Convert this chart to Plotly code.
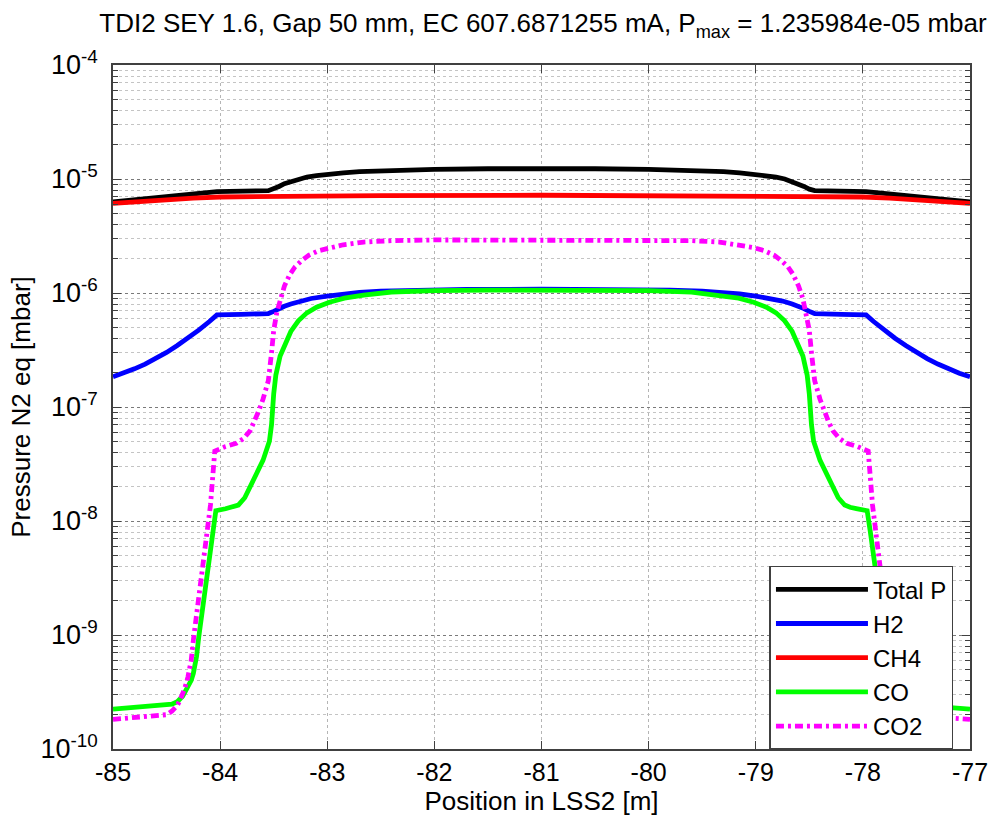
import plotly.graph_objects as go

# Pressure profiles along LSS2 (N2-equivalent, mbar)
x_total = [-85, -84.5, -84.03, -83.55, -83.5, -83.45, -83.4, -83.34, -83.27, -83.19, -83.1, -83.0, -82.85, -82.7,
           -82.5, -82.3, -82.0, -81.5, -81.0,
           -80.5, -80.0, -79.7, -79.5, -79.3, -79.15, -79.0, -78.9, -78.81, -78.73, -78.66, -78.6, -78.55, -78.5,
           -78.45, -77.97, -77.5, -77]
p_total = [6.3e-6, 7.0e-6, 7.75e-6, 7.9e-6, 8.15e-6, 8.6e-6, 9.1e-6, 9.5e-6, 1.0e-5, 1.04e-5, 1.07e-5, 1.1e-5, 1.13e-5, 1.16e-5,
           1.18e-5, 1.2e-5, 1.215e-5, 1.23e-5, 1.236e-5,
           1.23e-5, 1.215e-5, 1.2e-5, 1.18e-5, 1.16e-5, 1.13e-5, 1.1e-5, 1.07e-5, 1.04e-5, 1.0e-5, 9.5e-6, 9.1e-6, 8.6e-6, 8.15e-6,
           7.9e-6, 7.75e-6, 7.0e-6, 6.3e-6]

x_h2 = [-85, -84.9, -84.8, -84.7, -84.6, -84.5, -84.4, -84.3, -84.2, -84.1, -84.03, -83.8, -83.55, -83.5, -83.45, -83.4,
        -83.34, -83.25, -83.15, -83.0, -82.85, -82.7, -82.5, -82.2, -81.7, -81.0,
        -80.3, -79.8, -79.5, -79.3, -79.15, -79.0, -78.85, -78.75, -78.66, -78.6, -78.55, -78.5, -78.45, -78.2,
        -77.97, -77.9, -77.8, -77.7, -77.6, -77.5, -77.4, -77.3, -77.2, -77.1, -77]
p_h2 = [1.845e-7, 1.98e-7, 2.16e-7, 2.38e-7, 2.66e-7, 3.01e-7, 3.46e-7, 4.01e-7, 4.72e-7, 5.62e-7, 6.43e-7, 6.5e-7, 6.6e-7, 6.9e-7, 7.3e-7, 7.65e-7,
        8.0e-7, 8.5e-7, 8.95e-7, 9.4e-7, 9.8e-7, 1.01e-6, 1.04e-6, 1.06e-6, 1.075e-6, 1.08e-6,
        1.075e-6, 1.06e-6, 1.04e-6, 1.01e-6, 9.8e-7, 9.4e-7, 8.95e-7, 8.5e-7, 8.0e-7, 7.65e-7, 7.3e-7, 6.9e-7, 6.6e-7, 6.5e-7,
        6.43e-7, 5.62e-7, 4.72e-7, 4.01e-7, 3.46e-7, 3.01e-7, 2.66e-7, 2.38e-7, 2.16e-7, 1.98e-7, 1.845e-7]

x_ch4 = [-85, -84.75, -84.5, -84.25, -84.0, -83.5, -82.5, -81.0, -79.5, -78.5, -78.0, -77.75, -77.5, -77.25, -77]
p_ch4 = [6.1e-6, 6.35e-6, 6.6e-6, 6.8e-6, 6.95e-6, 7.05e-6, 7.15e-6, 7.2e-6, 7.15e-6, 7.05e-6, 6.95e-6, 6.8e-6, 6.6e-6, 6.35e-6, 6.1e-6]

x_co = [-85, -84.7, -84.45, -84.4, -84.35, -84.31, -84.27, -84.25, -84.22, -84.2, -84.17, -84.15, -84.11, -84.07, -84.04,
        -83.95, -83.88, -83.83, -83.77, -83.71, -83.65, -83.6, -83.54, -83.52, -83.5, -83.48, -83.44, -83.4, -83.34,
        -83.27, -83.19, -83.1, -82.98, -82.84, -82.66, -82.4, -82.0, -81.5, -81.0,
        -80.5, -80.0, -79.6, -79.34, -79.16, -79.02, -78.9, -78.81, -78.73, -78.66, -78.6, -78.56, -78.52, -78.5,
        -78.48, -78.46, -78.4, -78.35, -78.29, -78.23, -78.17, -78.12, -78.05, -77.96, -77.93, -77.89, -77.85, -77.83,
        -77.8, -77.78, -77.75, -77.73, -77.69, -77.65, -77.6, -77.55, -77.3, -77]
p_co = [2.24e-10, 2.35e-10, 2.47e-10, 2.6e-10, 2.9e-10, 3.4e-10, 4.0e-10, 4.6e-10, 6.5e-10, 9.5e-10, 1.5e-9, 2.1e-9, 4.2e-9, 8e-9, 1.23e-8,
        1.28e-8, 1.32e-8, 1.38e-8, 1.6e-8, 2.05e-8, 2.7e-8, 3.4e-8, 5.0e-8, 7e-8, 1.3e-7, 1.9e-7, 2.8e-7, 3.5e-7, 4.6e-7,
        5.7e-7, 6.7e-7, 7.5e-7, 8.3e-7, 9.0e-7, 9.6e-7, 1.02e-6, 1.05e-6, 1.06e-6, 1.06e-6,
        1.06e-6, 1.05e-6, 1.02e-6, 9.6e-7, 9.0e-7, 8.3e-7, 7.5e-7, 6.7e-7, 5.7e-7, 4.6e-7, 3.5e-7, 2.8e-7, 1.9e-7, 1.3e-7,
        7e-8, 5.0e-8, 3.4e-8, 2.7e-8, 2.05e-8, 1.6e-8, 1.38e-8, 1.32e-8, 1.28e-8, 1.23e-8, 8e-9, 4.2e-9, 2.1e-9, 1.5e-9,
        9.5e-10, 6.5e-10, 4.6e-10, 4.0e-10, 3.4e-10, 2.9e-10, 2.6e-10, 2.47e-10, 2.35e-10, 2.24e-10]

x_co2 = [-85, -84.7, -84.5, -84.45, -84.4, -84.37, -84.33, -84.3, -84.27, -84.25, -84.2, -84.15, -84.09, -84.05,
         -83.95, -83.85, -83.78, -83.72, -83.68, -83.64, -83.6, -83.55, -83.52, -83.5, -83.47, -83.44, -83.4, -83.35,
         -83.3, -83.24, -83.17, -83.08, -82.98, -82.85, -82.66, -82.4, -82.0, -81.0,
         -80.0, -79.6, -79.34, -79.15, -79.02, -78.92, -78.83, -78.76, -78.7, -78.65, -78.6, -78.56, -78.53, -78.5,
         -78.48, -78.45, -78.4, -78.36, -78.32, -78.28, -78.22, -78.15, -78.05, -77.95, -77.91, -77.85, -77.8, -77.75,
         -77.73, -77.7, -77.67, -77.63, -77.6, -77.55, -77.5, -77.3, -77]
p_co2 = [1.82e-10, 1.9e-10, 2.0e-10, 2.15e-10, 2.4e-10, 2.75e-10, 3.4e-10, 4.3e-10, 6e-10, 9e-10, 2.0e-9, 4.8e-9, 1.38e-8, 4.1e-8,
         4.5e-8, 4.8e-8, 5.3e-8, 6.2e-8, 7.4e-8, 9.2e-8, 1.17e-7, 1.7e-7, 3.0e-7, 4.7e-7, 6.8e-7, 8.9e-7, 1.15e-6, 1.45e-6,
         1.7e-6, 1.92e-6, 2.15e-6, 2.35e-6, 2.5e-6, 2.65e-6, 2.8e-6, 2.88e-6, 2.92e-6, 2.93e-6,
         2.92e-6, 2.88e-6, 2.8e-6, 2.65e-6, 2.5e-6, 2.35e-6, 2.15e-6, 1.92e-6, 1.7e-6, 1.45e-6, 1.15e-6, 8.9e-7, 6.8e-7, 4.7e-7,
         3.0e-7, 1.7e-7, 1.17e-7, 9.2e-8, 7.4e-8, 6.2e-8, 5.3e-8, 4.8e-8, 4.5e-8, 4.1e-8, 1.38e-8, 4.8e-9, 2.0e-9, 9e-10,
         6e-10, 4.3e-10, 3.4e-10, 2.75e-10, 2.4e-10, 2.15e-10, 2.0e-10, 1.9e-10, 1.82e-10]

x_ticks = [-85, -84, -83, -82, -81, -80, -79, -78, -77]
y_exponents = [-10, -9, -8, -7, -6, -5, -4]

FONT = "Liberation Sans, Arial, Helvetica, sans-serif"
AXIS_COLOR = "#404040"

series = [
    ("Total P", x_total, p_total, "#000000", "solid"),
    ("H2", x_h2, p_h2, "#0000ff", "solid"),
    ("CH4", x_ch4, p_ch4, "#ff0000", "solid"),
    ("CO", x_co, p_co, "#00ff00", "solid"),
    ("CO2", x_co2, p_co2, "#ff00ff", "8px,4px,3px,4px"),
]

fig = go.Figure()
for name, xs, ys, color, dash in series:
    fig.add_trace(go.Scatter(x=xs, y=ys, mode="lines", name=name,
                             line=dict(color=color, width=4.8, dash=dash)))

minor_vals = [m * 10.0 ** e for e in y_exponents[:-1] for m in range(2, 10)]

fig.update_layout(
    width=1000, height=820,
    margin=dict(l=113, r=17, t=65, b=68),
    paper_bgcolor="white", plot_bgcolor="white",
    font=dict(family=FONT, color="black", size=26),
    title=dict(
        text="TDI2 SEY 1.6, Gap 50 mm, EC 607.6871255 mA, P<sub>max</sub> = 1.235984e-05 mbar",
        x=0.543, xanchor="center", y=0.972, yanchor="middle",
        font=dict(size=26, family=FONT, color="black"),
    ),
    showlegend=True,
    legend=dict(
        x=0.766, y=0.268, xanchor="left", yanchor="top",
        bgcolor="white", bordercolor=AXIS_COLOR, borderwidth=1.5,
        font=dict(size=24, family=FONT, color="black"),
        itemwidth=92, tracegroupgap=0,
    ),
)

fig.update_xaxes(
    range=[-85, -77], tickmode="array", tickvals=x_ticks,
    ticktext=[str(v) for v in x_ticks],
    ticks="inside", ticklen=8, tickwidth=1.2, tickcolor=AXIS_COLOR,
    showline=True, linecolor=AXIS_COLOR, linewidth=1.5, mirror="ticks",
    showgrid=True, gridcolor="#b5b5b5", griddash="dot", gridwidth=1,
    zeroline=False, tickfont=dict(size=25), ticklabeloverflow="allow",
    title=dict(text="Position in LSS2 [m]", font=dict(size=26), standoff=4),
)

fig.update_yaxes(
    type="log", range=[-10, -4], tickmode="array",
    tickvals=[10.0 ** e for e in y_exponents],
    ticktext=["10<sup>%d</sup>" % e for e in y_exponents],
    ticks="inside", ticklen=8, tickwidth=1.2, tickcolor=AXIS_COLOR,
    showline=True, linecolor=AXIS_COLOR, linewidth=1.5, mirror="ticks",
    showgrid=True, gridcolor="#7a7a7a", griddash="dot", gridwidth=1,
    zeroline=False, tickfont=dict(size=27), ticklabelstandoff=8,
    minor=dict(tickmode="array", tickvals=minor_vals, ticks="inside", ticklen=5,
               tickwidth=1.2, tickcolor=AXIS_COLOR, showgrid=True,
               gridcolor="#c4c4c4", griddash="dot", gridwidth=1),
    title=dict(text="Pressure N2 eq [mbar]", font=dict(size=26), standoff=2),
)

fig.write_html("out.html")
